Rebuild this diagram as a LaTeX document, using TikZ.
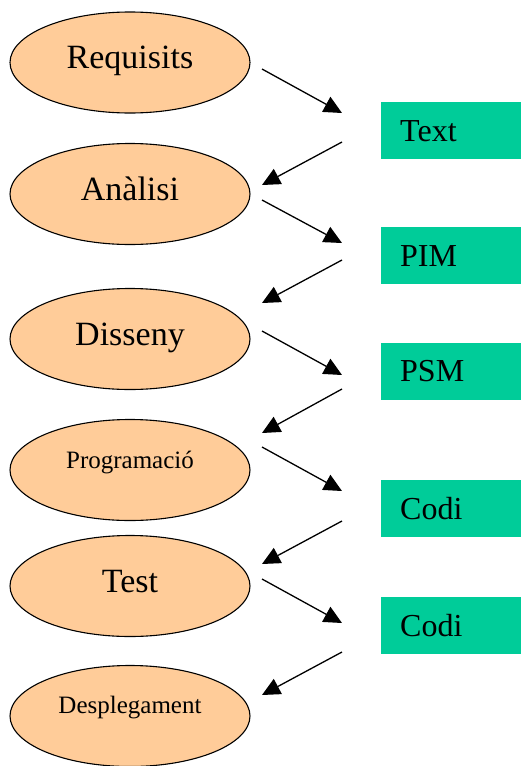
\documentclass[tikz,border=0pt]{standalone}
\usepackage{fontspec}
\setmainfont{Liberation Serif}
\usetikzlibrary{arrows.meta,shapes.geometric}
\definecolor{fasefill}{HTML}{FFCC99}
\definecolor{modelfill}{HTML}{00CC99}

\begin{document}
\begin{tikzpicture}[
  x=1pt, y=-1pt,
  fase/.style={draw, ellipse, line width=1.1pt, fill=fasefill, inner sep=0pt,
    minimum width=240pt, minimum height=101pt,
    font=\fontsize{34}{40}\selectfont, text height=24pt, text depth=12pt},
  petita/.style={font=\fontsize{25}{30}\selectfont, text height=#1, text depth=32pt-#1},
  model/.style={fill=modelfill, anchor=west, inner xsep=19pt, inner ysep=0pt,
    minimum height=57pt, text width=107pt, align=left,
    font=\fontsize{32}{38}\selectfont, text height=21pt, text depth=0pt},
  fletxa/.style={-{Triangle[length=18pt,width=17pt]}, line width=1.3pt}
]
\useasboundingbox (0,0) rectangle (521,766);

% fases del proces
\node[fase] (req) at (130,62.5) {Requisits};
\node[fase] (ana) at (130,194) {Anàlisi};
\node[fase] (dis) at (130,339) {Disseny};
\node[fase, petita=14pt] (prog) at (130,470) {Programació};
\node[fase] (test) at (130,586) {Test};
\node[fase, petita=13pt] (desp) at (130,716) {Desplegament};

% models
\node[model] (text) at (381,130.5) {Text};
\node[model] (pim) at (381,255.5) {PIM};
\node[model] (psm) at (381,371) {PSM};
\node[model] (codia) at (381,508.5) {Codi};
\node[model] (codib) at (381,625.5) {Codi};

% extrems de les fletxes
\coordinate (req-o) at (262,69);    \coordinate (text-i) at (342,113);
\coordinate (text-o) at (342,142);  \coordinate (ana-i) at (262,185);
\coordinate (ana-o) at (262,200);   \coordinate (pim-i) at (342,243);
\coordinate (pim-o) at (342,260);   \coordinate (dis-i) at (262,303);
\coordinate (dis-o) at (262,331);   \coordinate (psm-i) at (342,375);
\coordinate (psm-o) at (342,389);   \coordinate (prog-i) at (262,433);
\coordinate (prog-o) at (262,447);  \coordinate (codia-i) at (342,491);
\coordinate (codia-o) at (342,521); \coordinate (test-i) at (262,564);
\coordinate (test-o) at (262,579);  \coordinate (codib-i) at (342,623);
\coordinate (codib-o) at (342,652); \coordinate (desp-i) at (262,695);

\foreach \a/\b in {req-o/text-i, text-o/ana-i, ana-o/pim-i, pim-o/dis-i,
  dis-o/psm-i, psm-o/prog-i, prog-o/codia-i, codia-o/test-i,
  test-o/codib-i, codib-o/desp-i}
  \draw[fletxa] (\a) -- (\b);
\end{tikzpicture}
\end{document}
